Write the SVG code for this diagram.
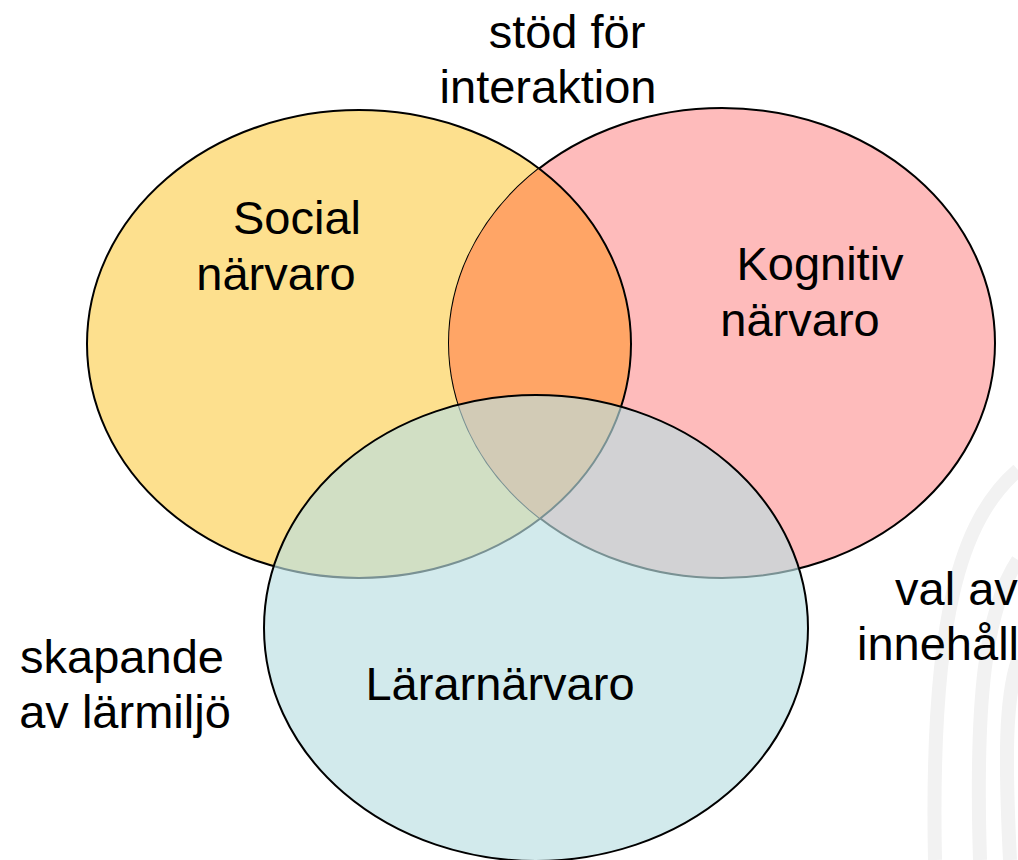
<svg xmlns="http://www.w3.org/2000/svg" width="1018" height="860" viewBox="0 0 1018 860">
<style>
.t{font-family:"Liberation Sans",Arial,sans-serif;font-size:47px;fill:#000;text-anchor:middle}
.ts{font-family:"Liberation Sans",Arial,sans-serif;font-size:47px;fill:#000}
.e{stroke:#000;stroke-width:2}
.wm{fill:none;stroke:#F2F2F2;stroke-width:14}
</style>
<defs>
<clipPath id="clipY"><ellipse cx="359" cy="344" rx="272" ry="234"/></clipPath>
<clipPath id="clipK"><ellipse cx="722" cy="343" rx="273" ry="235"/></clipPath>
</defs>
<rect width="1018" height="860" fill="#fff"/>
<g id="watermark">
<path class="wm" d="M1018 470 C960 520 930 620 935 860"/>
<path class="wm" d="M1018 560 C985 610 975 700 980 860"/>
<path class="wm" d="M1018 660 C1005 700 1005 760 1010 860"/>
</g>
<g id="social">
<ellipse class="e" cx="359" cy="344" rx="272" ry="234" fill="#FDE08E"/>
</g>
<g id="kognitiv">
<ellipse class="e" cx="722" cy="343" rx="273" ry="235" fill="#FEBBBB"/>
<ellipse cx="722" cy="343" rx="273" ry="235" fill="#FFA566" clip-path="url(#clipY)"/>
<ellipse cx="359" cy="344" rx="272" ry="234" fill="none" stroke="#000" stroke-width="2" clip-path="url(#clipK)"/>
</g>
<g id="larar">
<ellipse class="e" cx="536" cy="628" rx="272" ry="233" fill="#BADEE2" fill-opacity="0.65"/>
</g>
<g id="labels">
<text class="t" x="297" y="234">Social</text>
<text class="t" x="276" y="290">närvaro</text>
<text class="t" x="820" y="280">Kognitiv</text>
<text class="t" x="800" y="336">närvaro</text>
<text class="t" x="500" y="700">Lärarnärvaro</text>
<text class="t" x="567" y="48">stöd för</text>
<text class="t" x="548" y="103">interaktion</text>
<text class="t" x="122" y="673">skapande</text>
<text class="t" x="125" y="728">av lärmiljö</text>
<text class="ts" x="895" y="605">val av</text>
<text class="ts" x="857" y="660">innehåll</text>
</g>
</svg>
